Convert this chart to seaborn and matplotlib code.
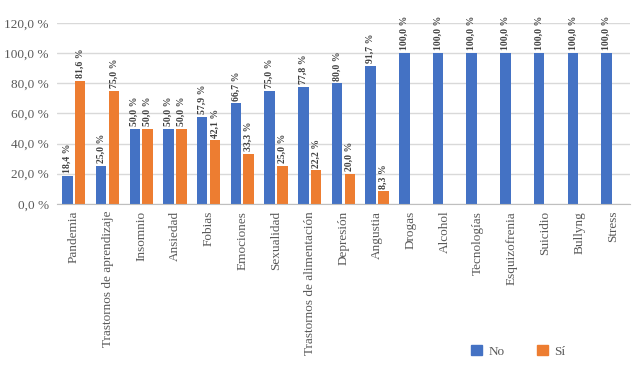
import numpy as np
import pandas as pd
import matplotlib
matplotlib.use("Agg")
import matplotlib.pyplot as plt
import seaborn as sns

categories = ["Pandemia", "Trastornos de aprendizaje", "Insomnio", "Ansiedad", "Fobias",
              "Emociones", "Sexualidad", "Trastornos de alimentación", "Depresión", "Angustia",
              "Drogas", "Alcohol", "Tecnologías", "Esquizofrenia", "Suicidio", "Bullyng", "Stress"]
no_vals = [18.4, 25.0, 50.0, 50.0, 57.9, 66.7, 75.0, 77.8, 80.0, 91.7,
           100.0, 100.0, 100.0, 100.0, 100.0, 100.0, 100.0]
si_vals = [81.6, 75.0, 50.0, 50.0, 42.1, 33.3, 25.0, 22.2, 20.0, 8.3,
           0, 0, 0, 0, 0, 0, 0]
series = ["No", "Sí"]
colors = ["#4472C4", "#ED7D31"]

df = pd.DataFrame({
    "cat": categories * 2,
    "val": no_vals + si_vals,
    "serie": ["No"] * len(categories) + ["Sí"] * len(categories),
})

sns.set_style("white")
plt.rcParams["font.family"] = ["Liberation Serif", "DejaVu Serif"]

fig = plt.figure(figsize=(6.4, 3.72), dpi=100)
ax = fig.add_axes([0.089, 0.452, 0.895, 0.486])

sns.barplot(data=df, x="cat", y="val", hue="serie", hue_order=series,
            palette=colors, saturation=1, width=0.76, gap=0.18, ax=ax,
            legend=False, linewidth=0)

for cont in ax.containers:
    labels = [f"{v:.1f} %".replace(".", ",") if v > 0 else "" for v in cont.datavalues]
    ax.bar_label(cont, labels=labels, rotation=90, padding=2, fontsize=7,
                 fontweight="bold", color="#404040")

ax.set_ylim(0, 120)
ax.set_xlim(-0.5, len(categories) - 0.5)
ax.set_yticks(np.arange(0, 121, 20))
ax.set_yticklabels([f"{v:.1f} %".replace(".", ",") for v in np.arange(0, 121, 20)])
ax.yaxis.grid(True, color="#d9d9d9", linewidth=1)
ax.set_axisbelow(True)
for s in ["top", "right", "left"]:
    ax.spines[s].set_visible(False)
ax.spines["bottom"].set_color("#bfbfbf")
ax.tick_params(axis="x", rotation=90, labelsize=9.5, colors="#595959", length=0, pad=5)
ax.tick_params(axis="y", labelsize=9.5, colors="#595959", length=0, pad=6)
ax.set_xlabel("")
ax.set_ylabel("")

handles = [plt.Rectangle((0, 0), 1, 1, color=c) for c in colors]
fig.legend(handles, series, loc="center", bbox_to_anchor=(0.81, 0.055), ncol=2,
           frameon=False, fontsize=9.5, handlelength=0.8, handleheight=0.8,
           columnspacing=2.5, handletextpad=0.5, labelcolor="#595959")

fig.savefig("out.png", dpi=100)
